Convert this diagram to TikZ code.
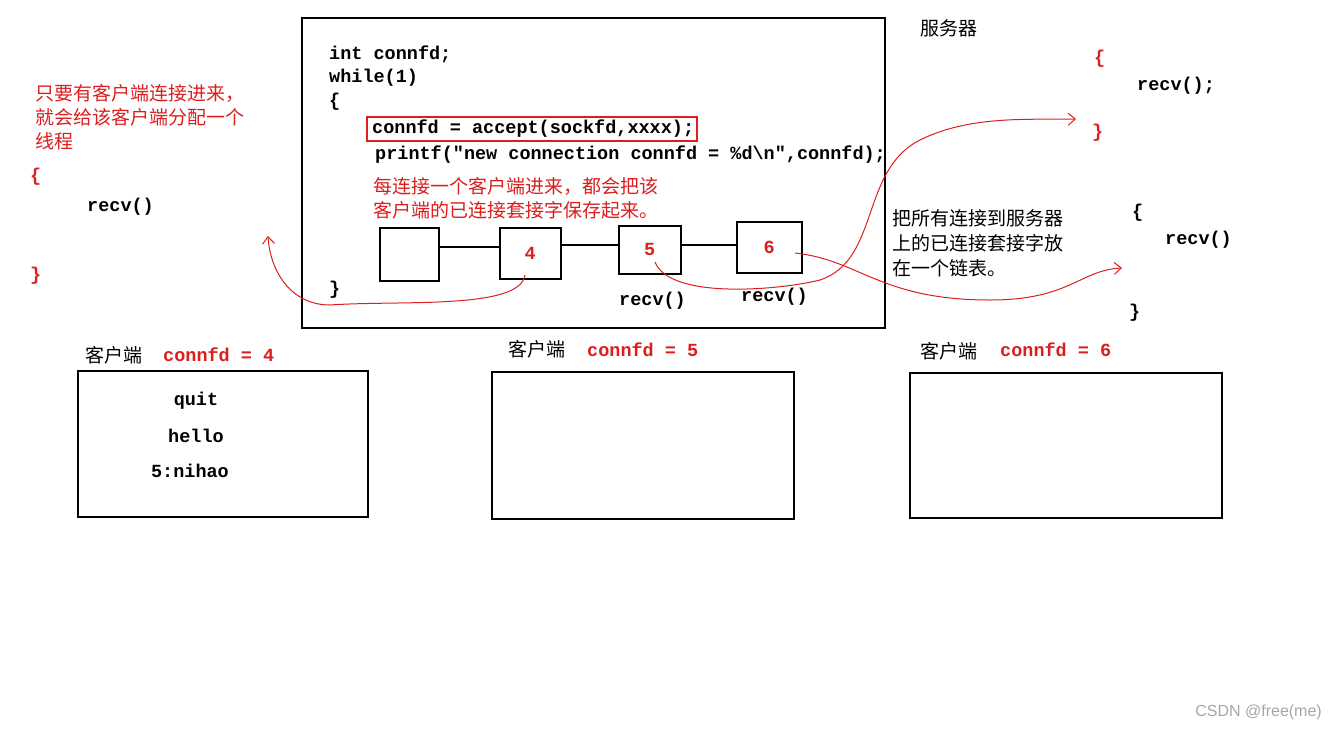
\documentclass[tikz,border=0pt]{standalone}
\usetikzlibrary{arrows.meta}
\usepackage{fontspec}
\setmainfont{Liberation Serif}
\setmonofont{Liberation Mono}
\newfontfamily\cjk{Noto Sans CJK SC}
\definecolor{cred}{RGB}{220,30,30}
\begin{document}
\begin{tikzpicture}[x=1pt,y=-1pt,
  code/.style={anchor=west,inner sep=0pt,font=\ttfamily\bfseries\fontsize{18.5}{20}\selectfont},
  rcode/.style={code,text=cred},
  zh/.style={anchor=west,inner sep=0pt,font=\cjk\fontsize{19}{20}\selectfont},
  rzh/.style={zh,text=cred},
  box/.style={draw,line width=1.8pt},
  lbox/.style={draw,line width=1.5pt},
  rarr/.style={cred,line width=1pt,-{Straight Barb[length=7pt,width=12pt]}}]
\useasboundingbox (0,0) rectangle (1336,732);
\node[box,minimum width=583,minimum height=310,anchor=north west] (srv) at (301,17) {};
\node[zh] (srvl) at (920,28) {服务器};
\node[code] (c1) at (329,54) {int connfd;};
\node[code] (c2) at (329,78) {while(1)};
\node[code] (c3) at (329,102) {\{};
\node[draw=cred,line width=1.5pt,minimum width=330,minimum height=24,anchor=north west] (acc) at (366,116) {};
\node[code] (c4) at (372,129) {connfd = accept(sockfd,xxxx);};
\node[code] (c5) at (375,155) {printf(\char34new connection connfd = \%d\textbackslash n\char34,connfd);};
\node[rzh] (t1) at (373,186) {每连接一个客户端进来，都会把该};
\node[rzh] (t2) at (373,210) {客户端的已连接套接字保存起来。};
\node[code] (c6) at (329,290) {\}};
\node[lbox,minimum width=59,minimum height=53,anchor=north west] (n1) at (379,227) {};
\node[lbox,minimum width=61,minimum height=51,anchor=north west,text=cred,font=\ttfamily\bfseries\fontsize{18.5}{20}\selectfont] (n2) at (499,227) {4};
\node[lbox,minimum width=62,minimum height=48,anchor=north west,text=cred,font=\ttfamily\bfseries\fontsize{18.5}{20}\selectfont] (n3) at (618,225) {5};
\node[lbox,minimum width=65,minimum height=51,anchor=north west,text=cred,font=\ttfamily\bfseries\fontsize{18.5}{20}\selectfont] (n4) at (736,221) {6};
\draw[line width=1.5pt] (n1.east|-0,247) -- (n2.west|-0,247);
\draw[line width=1.5pt] (n2.east|-0,245) -- (n3.west|-0,245);
\draw[line width=1.5pt] (n3.east|-0,245) -- (n4.west|-0,245);
\node[code] (r1) at (619,301) {recv()};
\node[code] (r2) at (741,297) {recv()};
\node[rzh] (l1) at (35,93) {只要有客户端连接进来，};
\node[rzh] (l2) at (35,117) {就会给该客户端分配一个};
\node[rzh] (l3) at (35,141) {线程};
\node[rcode] (lb1) at (30,177) {\{};
\node[code] (lr) at (87,207) {recv()};
\node[rcode] (lb2) at (30,276) {\}};
\node[rcode] (rb1) at (1094,59) {\{};
\node[code] (rr1) at (1137,86) {recv();};
\node[rcode] (rb2) at (1092,133) {\}};
\node[code] (rb3) at (1132,213) {\{};
\node[code] (rr2) at (1165,240) {recv()};
\node[code] (rb4) at (1129,313) {\}};
\node[zh] (m1) at (892,218) {把所有连接到服务器};
\node[zh] (m2) at (892,243) {上的已连接套接字放};
\node[zh] (m3) at (892,268) {在一个链表。};
\node[zh] (k1) at (85,355) {客户端};
\node[rcode] (k1c) at (163,355) {connfd = 4};
\node[lbox,minimum width=290,minimum height=146,anchor=north west] (b1) at (77,370) {};
\node[code,anchor=center] (q1) at (196,401) {quit};
\node[code,anchor=center] (q2) at (196,436) {hello};
\node[code,anchor=center] (q3) at (190,471) {5:nihao};
\node[zh] (k2) at (508,349) {客户端};
\node[rcode] (k2c) at (587,350) {connfd = 5};
\node[lbox,minimum width=302,minimum height=147,anchor=north west] (b2) at (491,371) {};
\node[zh] (k3) at (920,351) {客户端};
\node[rcode] (k3c) at (1000,350) {connfd = 6};
\node[lbox,minimum width=312,minimum height=145,anchor=north west] (b3) at (909,372) {};
\node[anchor=east,inner sep=0pt,text=gray!70,font=\fontspec{Liberation Sans}\fontsize{16}{18}\selectfont] (wm) at (1322,712) {CSDN @free(me)};
\coordinate (a1) at (268,236);
\coordinate (a2) at (1076,119);
\coordinate (a3) at (1122,268);
\draw[rarr] (525,275) .. controls (520,310) and (400,300) .. (330,305) .. controls (290,305) and (270,270) .. (a1);
\draw[rarr] (655,262) .. controls (670,300) and (780,290) .. (820,280) .. controls (880,260) and (860,170) .. (920,140) .. controls (970,115) and (1030,120) .. (a2);
\draw[rarr] (795,253) .. controls (860,260) and (880,300) .. (990,300) .. controls (1070,300) and (1080,270) .. (a3);
\end{tikzpicture}
\end{document}
